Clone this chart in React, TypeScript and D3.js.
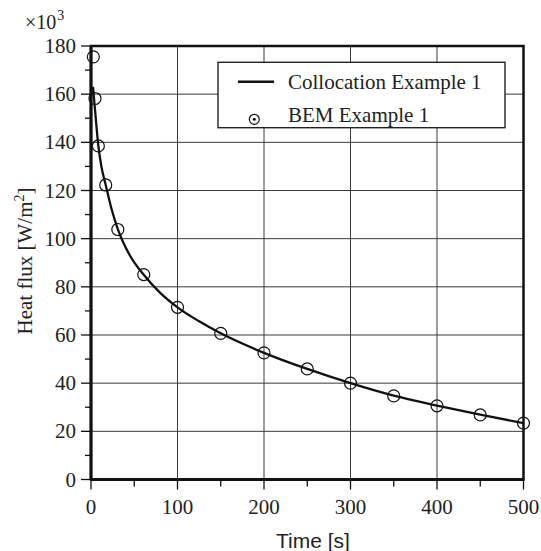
import React, { useRef, useEffect } from 'react';
import * as d3 from 'd3';

// collocation curve (time [s], heat flux x10^3 W/m2)
const lineTime = [2.3, 5, 8.5, 12, 17, 24, 31, 45, 61, 80, 100, 125, 150, 200, 250, 300, 350, 400, 450, 500];
const lineFlux = [163, 152, 138.5, 130, 122.3, 112, 104, 93, 85, 77.5, 71.5, 65.7, 60.7, 52.6, 45.9, 40, 34.8, 30.7, 26.9, 23.4];

// BEM points
const bemTime = [2.7, 4.6, 8.5, 17, 31, 61, 100, 150, 200, 250, 300, 350, 400, 450, 500];
const bemFlux = [175.5, 158.2, 138.5, 122.3, 103.8, 85.1, 71.5, 60.7, 52.6, 45.9, 40, 34.7, 30.6, 26.8, 23.4];

const xTicks = [0, 100, 200, 300, 400, 500];
const xMinor = [50, 150, 250, 350, 450];
const yTicks = [0, 20, 40, 60, 80, 100, 120, 140, 160, 180];
const yMinor = [10, 30, 50, 70, 90, 110, 130, 150, 170];

const legendLabels = ['Collocation Example 1', 'BEM Example 1'];

function App() {
    const ref = useRef(null);

    useEffect(() => {
        const svg = d3.select(ref.current);
        svg.selectAll('*').remove();

        const left = 91, right = 523.5, top = 46, bottom = 479.5;
        const serif = '"Liberation Serif", "Times New Roman", serif';

        const x = d3.scaleLinear().domain([0, 500]).range([left, right]);
        const y = d3.scaleLinear().domain([0, 180]).range([bottom, top]);

        // grid
        const grid = svg.append('g').attr('stroke', '#3a3a3a').attr('stroke-width', 1);
        xTicks.slice(1, -1).forEach(t => {
            grid.append('line').attr('x1', x(t)).attr('x2', x(t)).attr('y1', top).attr('y2', bottom);
        });
        yTicks.slice(1, -1).forEach(t => {
            grid.append('line').attr('x1', left).attr('x2', right).attr('y1', y(t)).attr('y2', y(t));
        });

        // ticks
        const ticks = svg.append('g').attr('stroke', '#111').attr('stroke-width', 1.3);
        xTicks.forEach(t => ticks.append('line').attr('x1', x(t)).attr('x2', x(t)).attr('y1', bottom).attr('y2', bottom + 10));
        xMinor.forEach(t => ticks.append('line').attr('x1', x(t)).attr('x2', x(t)).attr('y1', bottom).attr('y2', bottom + 7));
        yTicks.forEach(t => ticks.append('line').attr('x1', left - 10).attr('x2', left).attr('y1', y(t)).attr('y2', y(t)));
        yMinor.forEach(t => ticks.append('line').attr('x1', left - 6).attr('x2', left).attr('y1', y(t)).attr('y2', y(t)));

        // frame
        svg.append('rect')
            .attr('x', left).attr('y', top)
            .attr('width', right - left).attr('height', bottom - top)
            .attr('fill', 'none').attr('stroke', '#111').attr('stroke-width', 2.5);
        svg.append('line').attr('x1', left).attr('x2', left).attr('y1', top).attr('y2', bottom)
            .attr('stroke', '#111').attr('stroke-width', 3);
        svg.append('line').attr('x1', left).attr('x2', right).attr('y1', bottom).attr('y2', bottom)
            .attr('stroke', '#111').attr('stroke-width', 3);

        // tick labels
        svg.append('g').selectAll('text').data(xTicks).enter().append('text')
            .attr('x', d => x(d)).attr('y', 513.5)
            .attr('text-anchor', 'middle')
            .style('font-family', serif).style('font-size', '21px').attr('fill', '#222')
            .text(d => d);
        svg.append('g').selectAll('text').data(yTicks).enter().append('text')
            .attr('x', 76).attr('y', d => y(d) + 7)
            .attr('text-anchor', 'end')
            .style('font-family', serif).style('font-size', '21px').attr('fill', '#222')
            .text(d => d);

        // x10^3
        const mult = svg.append('text').attr('x', 25).attr('y', 29)
            .style('font-family', serif).style('font-size', '20px').attr('fill', '#222');
        mult.append('tspan').text('\u00d710');
        mult.append('tspan').attr('dx', 1).attr('dy', -9).style('font-size', '14px').text('3');

        // axis titles
        svg.append('text').attr('x', 313).attr('y', 548)
            .attr('text-anchor', 'middle')
            .style('font-family', '"Liberation Sans", Arial, sans-serif').style('font-size', '21px').attr('fill', '#222')
            .text('Time [s]');
        const yl = svg.append('text')
            .attr('transform', 'translate(32,261) rotate(-90)')
            .attr('text-anchor', 'middle')
            .style('font-family', serif).style('font-size', '21px').attr('fill', '#222');
        yl.append('tspan').text('Heat flux [W/m');
        yl.append('tspan').attr('dy', -8).style('font-size', '14px').text('2');
        yl.append('tspan').attr('dy', 8).text(']');

        // collocation line
        const line = d3.line()
            .x((d, i) => x(lineTime[i]))
            .y(d => y(d))
            .curve(d3.curveMonotoneX);
        svg.append('path').datum(lineFlux)
            .attr('d', line)
            .attr('fill', 'none').attr('stroke', '#111').attr('stroke-width', 2.3);

        // BEM points
        svg.append('g').selectAll('circle').data(bemFlux).enter().append('circle')
            .attr('cx', (d, i) => x(bemTime[i]))
            .attr('cy', d => y(d))
            .attr('r', 6)
            .attr('fill', 'none').attr('stroke', '#111').attr('stroke-width', 1.2);

        // legend
        const lg = svg.append('g');
        lg.append('rect').attr('x', 218).attr('y', 62.3).attr('width', 287).attr('height', 65.4)
            .attr('fill', '#fff').attr('stroke', '#222').attr('stroke-width', 1.4);
        lg.append('line').attr('x1', 238).attr('x2', 274).attr('y1', 81.7).attr('y2', 81.7)
            .attr('stroke', '#111').attr('stroke-width', 2.5);
        lg.append('circle').attr('cx', 254.3).attr('cy', 119.3).attr('r', 5)
            .attr('fill', 'none').attr('stroke', '#111').attr('stroke-width', 1.2);
        lg.append('circle').attr('cx', 254.3).attr('cy', 119.3).attr('r', 1.5).attr('fill', '#111');
        lg.selectAll('text.lab').data(legendLabels).enter().append('text')
            .attr('class', 'lab')
            .attr('x', 288).attr('y', (d, i) => 88.5 + i * 33.5)
            .style('font-family', serif).style('font-size', '21px').attr('fill', '#222')
            .text(d => d);
    }, []);

    return (
        <svg ref={ref} width={541} height={551}
            style={{ position: 'absolute', left: 0, top: 0, background: '#fff' }} />
    );
}

export default App;
